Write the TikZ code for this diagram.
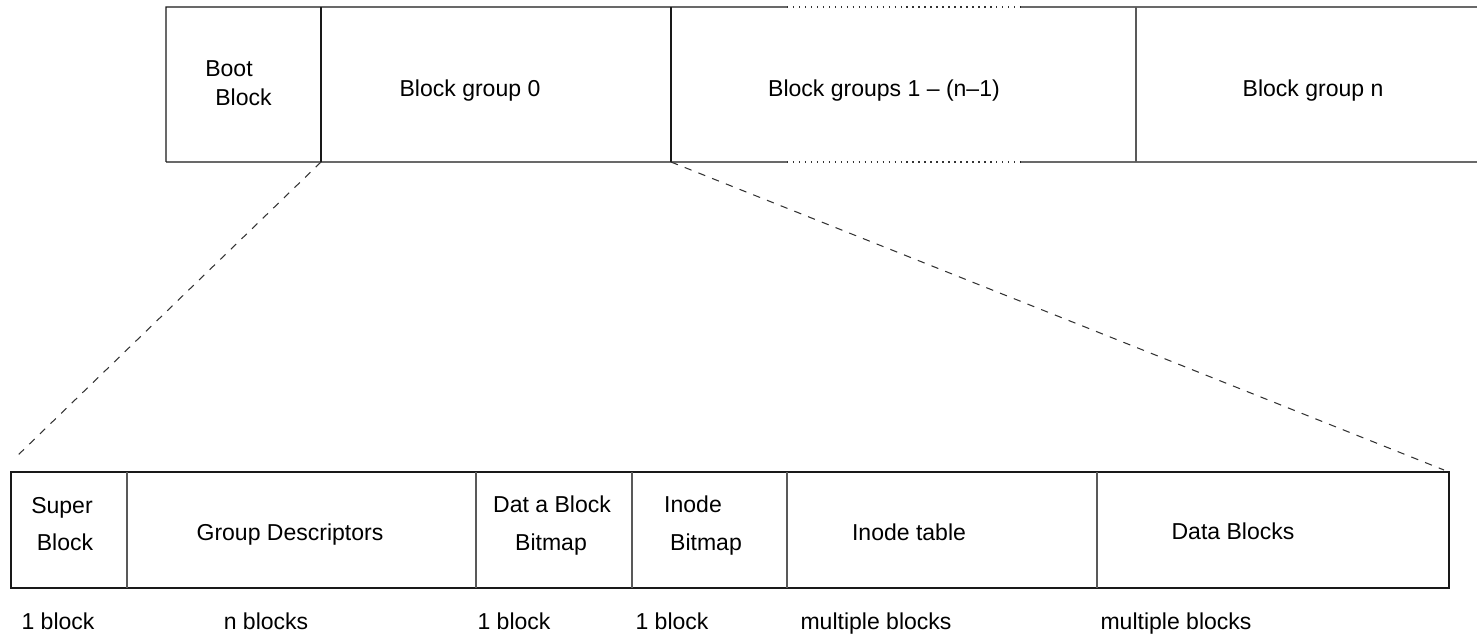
\documentclass[tikz,border=0pt]{standalone}
\usepackage{fontspec}
\setmainfont{Liberation Sans}
\begin{document}
\begin{tikzpicture}[x=0.02cm,y=-0.02cm,
  cell/.style={inner sep=0pt,outer sep=0pt},
  txt/.style={inner sep=0pt,anchor=base,font=\fontsize{13.1}{15}\selectfont},
  outer/.style={line width=0.7pt,black!90},
  divider/.style={line width=0.7pt,black!65},
  divdark/.style={line width=0.7pt,black!90},
  zoomline/.style={line width=0.6pt,black!80,dash pattern=on 4.2pt off 4.2pt},
  dotline/.style={line width=0.7pt,black!80,dash pattern=on 0.8pt off 2.6pt}]
\useasboundingbox (0,0) rectangle (1477,637);
% top row cells
\node[cell,minimum width=3.1cm,minimum height=3.1cm] (boot) at (243.5,84.5) {};
\node[cell,minimum width=7cm,minimum height=3.1cm] (bg0) at (496,84.5) {};
\node[cell,minimum width=9.3cm,minimum height=3.1cm] (bgs) at (903.5,84.5) {};
\node[cell,minimum width=6.82cm,minimum height=3.1cm] (bgn) at (1306.5,84.5) {};
\coordinate (dt1) at (787,7);
\coordinate (dt2) at (1020,7);
\coordinate (db1) at (787,162);
\coordinate (db2) at (1020,162);
\draw[outer] (boot.south west) -- (boot.north west) -- (dt1);
\draw[dotline] (dt1) -- (dt2);
\draw[outer] (dt2) -- (bgn.north east);
\draw[outer] (boot.south west) -- (db1);
\draw[dotline] (db1) -- (db2);
\draw[outer] (db2) -- (bgn.south east);
\draw[divdark] (boot.north east) -- (boot.south east);
\draw[divdark] (bgs.north west) -- (bgs.south west);
\draw[divider] (bgn.north west) -- (bgn.south west);
% top row texts
\node[txt] (tboot1) at (229,76) {Boot};
\node[txt] (tboot2) at (243.5,105) {Block};
\node[txt] (tbg0) at (470,96) {Block group 0};
\node[txt] (tbgs) at (884,96) {Block groups 1 – (n–1)};
\node[txt] (tbgn) at (1313,96) {Block group n};
% bottom row cells
\node[cell,minimum width=2.32cm,minimum height=2.32cm] (super) at (69,530) {};
\node[cell,minimum width=6.98cm,minimum height=2.32cm] (gd) at (301.5,530) {};
\node[cell,minimum width=3.12cm,minimum height=2.32cm] (dab) at (554,530) {};
\node[cell,minimum width=3.1cm,minimum height=2.32cm] (ib) at (709.5,530) {};
\node[cell,minimum width=6.2cm,minimum height=2.32cm] (it) at (942,530) {};
\node[cell,minimum width=7.04cm,minimum height=2.32cm] (dbk) at (1273,530) {};
\draw[outer] (super.north west) rectangle (dbk.south east);
\draw[divider] (gd.north west) -- (gd.south west);
\draw[divider] (dab.north west) -- (dab.south west);
\draw[divider] (ib.north west) -- (ib.south west);
\draw[divider] (it.north west) -- (it.south west);
\draw[divider] (dbk.north west) -- (dbk.south west);
% bottom row texts
\node[txt] (tsup1) at (62,513) {Super};
\node[txt] (tsup2) at (65,550) {Block};
\node[txt] (tgd) at (290,540) {Group Descriptors};
\node[txt] (tdab1) at (552,512) {Dat a Block};
\node[txt] (tdab2) at (551,550) {Bitmap};
\node[txt] (tib1) at (693,512) {Inode};
\node[txt] (tib2) at (706,550) {Bitmap};
\node[txt] (tit) at (909,540) {Inode table};
\node[txt] (tdb) at (1233,539) {Data Blocks};
% size labels
\node[txt] (s1) at (58,629) {1 block};
\node[txt] (s2) at (266,629) {n blocks};
\node[txt] (s3) at (514,629) {1 block};
\node[txt] (s4) at (672,629) {1 block};
\node[txt] (s5) at (876,629) {multiple blocks};
\node[txt] (s6) at (1176,629) {multiple blocks};
% zoom lines
\coordinate (zl) at (15,458);
\coordinate (zr) at (1444,470);
\draw[zoomline] (bg0.south west) -- (zl);
\draw[zoomline] (bg0.south east) -- (zr);
\end{tikzpicture}
\end{document}
